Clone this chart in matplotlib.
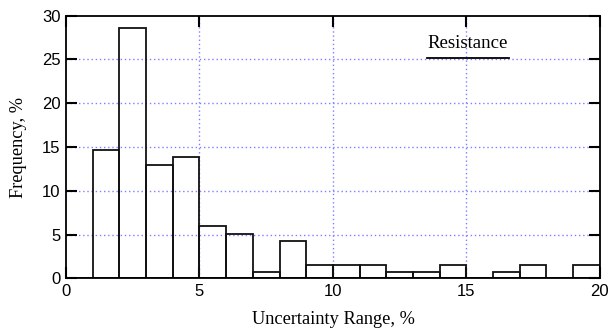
import numpy as np
import matplotlib
matplotlib.use("Agg")
import matplotlib.pyplot as plt
from matplotlib.lines import Line2D

# histogram data (bin edges 0..20, width 1)
bin_left = np.arange(0, 20)
freq = [0, 14.66, 28.63, 12.94, 13.82, 6.01, 5.10, 0.76, 4.22, 1.55,
        1.55, 1.55, 0.72, 0.72, 1.55, 0, 0.72, 1.55, 0, 1.55]
x_ticks = [0, 5, 10, 15, 20]
y_ticks = [0, 5, 10, 15, 20, 25, 30]

fig = plt.figure(figsize=(6.08, 3.33), dpi=100)
ax = fig.add_axes([0.1086, 0.164, 0.878, 0.789])

ax.bar(bin_left, freq, width=1, align='edge', facecolor='none',
       edgecolor='#111111', linewidth=1.3, zorder=3)

ax.set_xlim(0, 20)
ax.set_ylim(0, 30)
ax.set_xticks(x_ticks)
ax.set_yticks(y_ticks)

# blue dotted grid at inner ticks only
for v in x_ticks[1:-1]:
    ax.axvline(v, color='#7f7fff', linestyle=(0, (1, 2)), linewidth=1.0, zorder=1)
for v in y_ticks[1:-1]:
    ax.axhline(v, color='#7f7fff', linestyle=(0, (1, 2)), linewidth=1.0, zorder=1)

ax.tick_params(direction='in', length=8, width=1.5, top=True, right=True,
               labelsize=12, pad=4, zorder=4)
for lab in ax.get_xticklabels() + ax.get_yticklabels():
    lab.set_family(['Liberation Sans Narrow', 'Liberation Sans', 'DejaVu Sans'])
for s in ax.spines.values():
    s.set_linewidth(1.3)
    s.set_zorder(5)

ax.set_xlabel('Uncertainty Range, %', family='Liberation Serif', fontsize=13.2, labelpad=9)
ax.set_ylabel('Frequency, %', family='Liberation Serif', fontsize=13.2, labelpad=11)

ax.text(0.752, 0.862, 'Resistance', transform=ax.transAxes, ha='center',
        va='bottom', family='Liberation Serif', fontsize=13.5)
ax.add_line(Line2D([0.676, 0.830], [0.839, 0.839], transform=ax.transAxes,
                   color='black', linewidth=1.3))

fig.savefig('out.png', dpi=100)
